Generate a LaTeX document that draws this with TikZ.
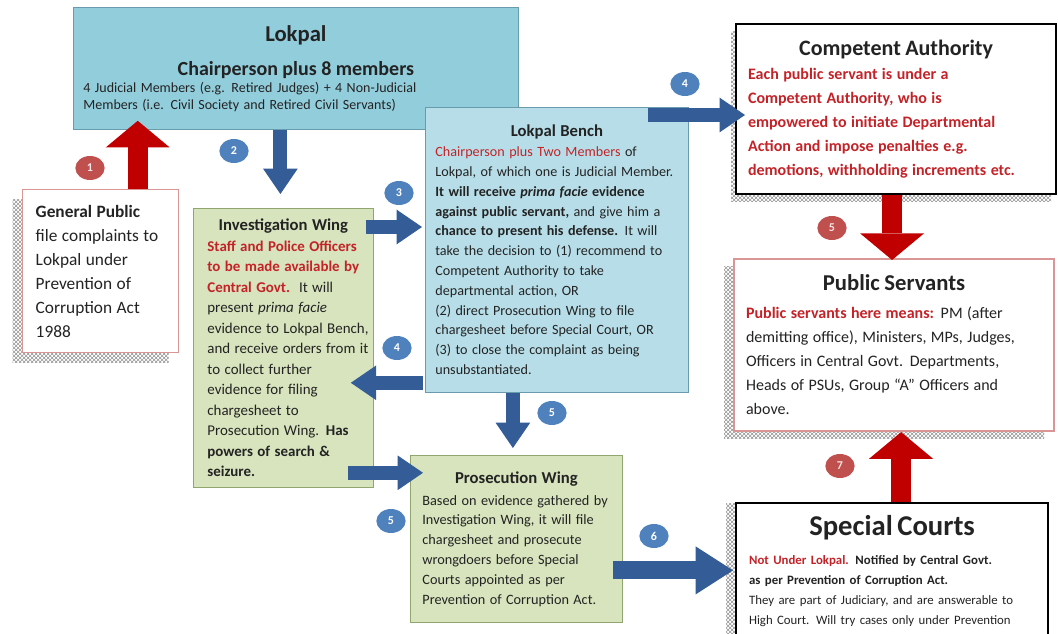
\documentclass[tikz,border=0pt]{standalone}
\usepackage{fontspec}
\setmainfont{Carlito}
\usetikzlibrary{arrows.meta,calc,shapes.geometric,shadows,patterns}
\usepackage{xcolor}
\definecolor{lpaqua}{RGB}{146,205,220}
\definecolor{lpbench}{RGB}{183,222,232}
\definecolor{lpedge}{RGB}{105,155,175}
\definecolor{lpgreen}{RGB}{215,228,189}
\definecolor{lpgreenedge}{RGB}{145,165,110}
\definecolor{lppink}{RGB}{217,150,148}
\definecolor{lpred}{RGB}{195,35,40}
\definecolor{lpdark}{RGB}{35,35,35}
\definecolor{arrowblue}{RGB}{52,92,150}
\definecolor{arrowred}{RGB}{192,0,0}
\definecolor{circblue}{RGB}{79,129,189}
\definecolor{circred}{RGB}{192,80,77}
\newcommand{\bodyfont}[2]{\fontsize{#1}{#2}\selectfont\rightskip=0pt plus 1fil minus 30pt\relax}
\tikzset{
    panel/.style={
        anchor=north west,align=left,text=lpdark
    },
    bluepanel/.style={
        panel,draw=lpedge,line width=0.6pt,fill=#1
    },
    bluepanel/.default=lpbench,
    greenpanel/.style={
        panel,draw=lpgreenedge,line width=0.6pt,fill=lpgreen
    },
    pinkpanel/.style={
        panel,draw=lppink,line width=1.1pt,fill=white
    },
    blackpanel/.style={
        panel,draw=black,line width=1.6pt,fill=white
    },
    hatched/.style 2 args={
        general shadow={shadow xshift=#1,shadow yshift=#2,
        pattern=crosshatch,pattern color=gray!85}
    },
    bluearrow/.style={
        draw=arrowblue,line width=10.5pt,
        -{Triangle[length=19pt,width=26pt,line width=0pt]}
    },
    bigblue/.style={
        draw=arrowblue,line width=13.5pt,
        -{Triangle[length=28pt,width=36pt,line width=0pt]}
    },
    redarrow/.style={
        draw=arrowred,line width=15pt,
        -{Triangle[length=20pt,width=48pt,line width=0pt]}
    },
    numblue/.style={
        ellipse,fill=circblue,minimum width=22pt,minimum height=18pt,
        inner sep=0pt,text=white,font=\fontsize{9}{9}\selectfont\bfseries
    },
    numred/.style={
        numblue,fill=circred,text=white!85!circred
    }
}

\begin{document}
\begin{tikzpicture}[x=0.75pt,y=-0.75pt]
\useasboundingbox (0,0) rectangle (1058,634);
\clip (0,0) rectangle (1058,634);

\node[bluepanel=lpaqua,text width=318.75pt,inner xsep=7.5pt,minimum height=91.5pt]
(lokpal) at (73,7)
{%
{\centering\fontsize{17}{20}\selectfont\bfseries Lokpal\par}
{\centering\fontsize{15}{25.5}\selectfont\bfseries Chairperson plus 8 members\par}
{\bodyfont{10.5}{12.75}4 Judicial Members (e.g. Retired Judges) + 4 Non-Judicial\\
Members (i.e. Civil Society and Retired Civil Servants)\par}%
};

\node[bluepanel,text width=182.25pt,inner xsep=7.5pt,minimum height=213.75pt]
(bench) at (425,107)
{%
{\centering\fontsize{12.5}{15}\selectfont\bfseries Lokpal Bench\par}
\bodyfont{10.6}{14.85}%
\textcolor{lpred}{Chairperson plus Two Members} of\\
Lokpal, of which one is Judicial Member.\\
\textbf{It will receive \emph{prima facie} evidence}\\
\textbf{against public servant,} and give him a\\
\textbf{chance to present his defense.} It will\\
take the decision to (1) recommend to\\
Competent Authority to take\\
departmental action, OR\\
(2) direct Prosecution Wing to file\\
chargesheet before Special Court, OR\\
(3) to close the complaint as being\\
unsubstantiated.\par%
};

\node[greenpanel,text width=114pt,inner xsep=10.5pt,minimum height=209.25pt]
(invwing) at (193,208)
{%
{\centering\fontsize{12.5}{15}\selectfont\bfseries Investigation Wing\par}
\bodyfont{11.2}{15.4}%
\textcolor{lpred}{\textbf{Staff and Police Officers}}\\
\textcolor{lpred}{\textbf{to be made available by}}\\
\textcolor{lpred}{\textbf{Central Govt.}}\ \ It will\\
present \emph{prima facie}\\
evidence to Lokpal Bench,\\
and receive orders from it\\
to collect further\\
evidence for filing\\
chargesheet to\\
Prosecution Wing. \textbf{Has}\\
\textbf{powers of search \&}\\
\textbf{seizure.}\par%
};

\node[greenpanel,text width=141pt,inner xsep=9pt,minimum height=125.25pt]
(proswing) at (410,455)
{%
{\centering\fontsize{12.5}{15}\selectfont\bfseries Prosecution Wing\par}
\vspace{1.5pt}%
\bodyfont{10.7}{14.85}%
Based on evidence gathered by\\
Investigation Wing, it will file\\
chargesheet and prosecute\\
wrongdoers before Special\\
Courts appointed as per\\
Prevention of Corruption Act.\par%
};

\node[pinkpanel,hatched={-7.5pt}{-7.5pt},text width=97.5pt,inner xsep=9.75pt,minimum height=122.25pt]
(public) at (22,189)
{%
\bodyfont{13}{18}%
\textbf{General Public}\\
file complaints to\\
Lokpal under\\
Prevention of\\
Corruption Act\\
1988\par%
};

\node[blackpanel,hatched={-3.75pt}{-5.25pt},text width=222pt,inner xsep=9pt,minimum height=127.5pt]
(compauth) at (735,23)
{%
{\centering\fontsize{16.5}{20}\selectfont\bfseries Competent Authority\par}
\bodyfont{12}{18}\color{lpred}\bfseries
Each public servant is under a\\
Competent Authority, who is\\
empowered to initiate Departmental\\
Action and impose penalties e.g.\\
demotions, withholding increments etc.\par%
};

\node[pinkpanel,line width=1.6pt,hatched={-7.5pt}{-5.25pt},text width=222pt,inner xsep=9pt,minimum height=129pt]
(servants) at (733,258)
{%
{\centering\fontsize{17}{20}\selectfont\bfseries Public Servants\par}
\vspace{3pt}%
\bodyfont{12}{18}%
\textcolor{lpred}{\textbf{Public servants here means:}} PM (after\\
demitting office), Ministers, MPs, Judges,\\
Officers in Central Govt. Departments,\\
Heads of PSUs, Group ``A'' Officers and\\
above.\par%
};

\node[blackpanel,hatched={-7.5pt}{0pt},text width=214.5pt,inner xsep=9.75pt,inner ysep=9pt]
(courts) at (735,502)
{%
{\centering\fontsize{21.5}{24}\selectfont\bfseries Special Courts\par}
\vspace{6.75pt}%
\bodyfont{9.6}{15}%
\textcolor{lpred}{\textbf{Not Under Lokpal.}} \textbf{Notified by Central Govt.}\\
\textbf{as per Prevention of Corruption Act.}\\
They are part of Judiciary, and are answerable to\\
High Court. Will try cases only under Prevention\\
\strut\par%
};

% block arrows
\draw[redarrow] ($(public.north)+(37,0)$) -- ($(public.north |- lokpal.south)+(37,-9)$);
\draw[bluearrow] ($(invwing.north |- lokpal.south)+(-3,0)$) -- ($(invwing.north)+(-3,-14)$);
\draw[bluearrow] ($(invwing.north east)+(-8,19)$) -- ($(bench.west |- invwing.north east)+(-3,19)$);
\draw[bluearrow] ($(bench.north east)+(-41,8)$) -- ($(compauth.west |- bench.north east)+(10,8)$);
\draw[bluearrow] ($(bench.south west)+(-2,-10)$) -- ($(invwing.east |- bench.south west)+(-23,-10)$);
\draw[bluearrow] ($(bench.south)+(-44,0)$) -- ($(bench.south |- proswing.north)+(-44,-7)$);
\draw[bluearrow] ($(invwing.south east)+(-26,-15)$) -- ($(proswing.west |- invwing.south east)+(13,-15)$);
\draw[bigblue] ($(proswing.east)+(-10,31.5)$) -- ($(courts.west |- proswing.east)+(-2,31.5)$);
\draw[redarrow] ($(compauth.south)+(-4,0)$) -- ($(compauth.south |- servants.north)+(-4,2)$);
\draw[redarrow] ($(courts.north)+(9,0)$) -- ($(courts.north |- servants.south)+(9,0)$);

% step numbers
\node[numred] (c1) at (90,168) {1};
\node[numblue] (c2) at (234,151) {2};
\node[numblue] (c3) at (399,193) {3};
\node[numblue] (c4a) at (685,84) {4};
\node[numblue] (c4b) at (397,348) {4};
\node[numred] (c5a) at (832,228) {5};
\node[numblue] (c5b) at (552,413) {5};
\node[numblue] (c5c) at (391,521) {5};
\node[numblue] (c6) at (654,536) {6};
\node[numred] (c7) at (840,466) {7};

\end{tikzpicture}
\end{document}
